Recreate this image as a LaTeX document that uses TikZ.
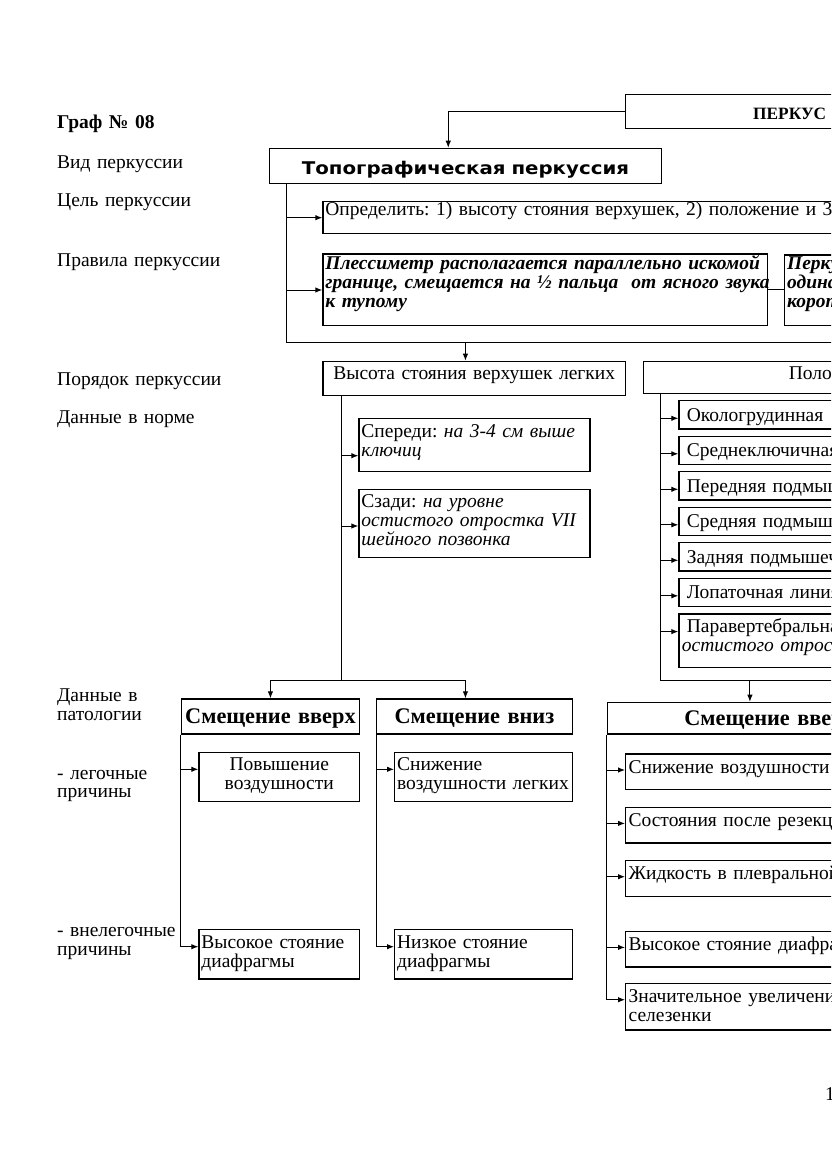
\documentclass[tikz,border=0pt]{standalone}
\usepackage{fontspec}
\setmainfont{Liberation Serif}
\newfontfamily\heavysans[FakeStretch=1.13]{DejaVu Sans Bold}
\usetikzlibrary{arrows.meta}
\newcommand\boxfont{\fontsize{19.5}{18.8}\selectfont}
\newcommand\headfont{\bfseries\fontsize{22.3}{24}\selectfont}
\frenchspacing

\begin{document}
\begin{tikzpicture}[x=1pt, y=-1pt,
    box/.style={draw, line width=1.2pt, anchor=north west, inner xsep=2.5pt, inner ysep=0pt, align=left, font=\boxfont},
    headbox/.style={box, align=center, font=\headfont},
    lbl/.style={anchor=base west, inner sep=0pt, align=left, text width=200pt, font=\boxfont},
    link/.style={line width=1pt},
    arr/.style={link, -{Latex[length=7pt,width=5.5pt]}}]
\useasboundingbox (0,0) rectangle (831,1174);
\clip (0,0) rectangle (831,1174);

% row titles
\node[lbl, font=\boxfont\bfseries] (t0) at (57,128.3) {Граф № 08};
\node[lbl] (t1) at (57,168.3) {Вид перкуссии};
\node[lbl] (t2) at (57,206.7) {Цель перкуссии};
\node[lbl] (t3) at (57,266) {Правила перкуссии};
\node[lbl] (t4) at (57,385) {Порядок перкуссии};
\node[lbl] (t5) at (57,423.3) {Данные в норме};
\node[lbl, text width=120pt] (t6) at (57,701.7) {Данные в\\патологии};
\node[lbl, text width=120pt] (t7) at (57,779) {- легочные\\причины};
\node[lbl, text width=120pt] (t8) at (57,936.7) {- внелегочные\\причины};

% head of the scheme
\node[box, align=center, font=\bfseries\fontsize{17.3}{18}\selectfont,
      text width=323.2pt, text height=24.7pt, text depth=8.7pt] (perk) at (625,94.3) {ПЕРКУС};
\node[box, align=center, font=\heavysans\fontsize{17.5}{18}\selectfont,
      text width=386.7pt, text height=26.6pt, text depth=9pt] (topo) at (269,147.7) {Топографическая перкуссия};
\draw[arr] (perk.west) -| ([xshift=-17.2pt]topo.north);

\node[box, text width=670pt, text height=14.3pt, text depth=18.3pt] (goal) at (322.3,200.7)
  {Определить: 1) высоту стояния верхушек, 2) положение и 3)};
\node[box, font=\boxfont\bfseries\itshape, text width=439.4pt, text height=15.7pt, text depth=56pt] (rule) at (322.3,253.3)
  {\mbox{Плессиметр располагается параллельно искомой}\\
   \mbox{границе, смещается на ½ пальца\ \ от ясного звука}\\
   к тупому};
\node[box, font=\boxfont\bfseries\itshape, text width=300pt, text height=14.7pt, text depth=56pt] (rule2) at (784,254.3)
  {Перку\\одина\\корот};
\draw[link] (rule.east) -- (rule.east -| rule2.west);

\coordinate (tbus) at (286.7,342.7);
\coordinate (tbar) at (900,342.7);
\draw[link] (tbus |- topo.south) -- (tbus) -- (tbar);
\draw[arr] ([yshift=-17pt]goal.north west -| tbus) -- ([yshift=-17pt]goal.north west);
\draw[arr] ([yshift=-36.7pt]rule.north west -| tbus) -- ([yshift=-36.7pt]rule.north west);

% order of percussion
\node[box, align=center, text width=297.7pt, text height=18.6pt, text depth=15.7pt] (vys) at (322.3,360.7)
  {Высота стояния верхушек легких};
\node[box, align=center, text width=329pt, text height=18.6pt, text depth=13.4pt] (polo) at (642.7,360.7) {Поло};
\draw[arr] (topo.south |- tbus) -- (topo.south |- vys.north);

% normal data, apex
\node[box, text width=226pt, text height=19.6pt, text depth=33.7pt] (front) at (358.3,417.7)
  {Спереди: \textit{на 3-4 см выше}\\\textit{ключиц}};
\node[box, text width=226pt, text height=18.3pt, text depth=49.4pt] (back) at (358.3,489)
  {Сзади: \textit{на уровне}\\\textit{остистого отростка VII}\\\textit{шейного позвонка}};
\coordinate (vbus) at (341,680);
\draw[link] (vbus |- vys.south) -- (vbus);
\draw[arr] ([yshift=-38pt]front.north west -| vbus) -- ([yshift=-38pt]front.north west);
\draw[arr] ([yshift=-37pt]back.north west -| vbus) -- ([yshift=-37pt]back.north west);

% normal data, lines
\foreach \nm/\lab [count=\i from 0] in {ok/Окологрудинная, sk/Среднеключичная, pp/Передняя подмыш,
    sr/Средняя подмыше, zp/Задняя подмышеч, lp/Лопаточная линия}
  \node[box, inner xsep=3pt, text width=300pt, text height=20.7pt, text depth=7.6pt] (\nm) at (678.3,400+35.5*\i)
    {\hspace*{5pt}\lab};
\node[box, inner xsep=3pt, text width=300pt, text height=18.4pt, text depth=35pt] (pv) at (678.3,613.3)
  {\hspace*{5pt}Паравертебральна\\\textit{остистого отрост}};
\coordinate (rbus) at (660.7,680);
\coordinate (rbar) at (900,680);
\draw[link] (rbus |- polo.south) -- (rbus) -- (rbar);
\foreach \nm in {ok,sk,pp,sr,zp,lp,pv}
  \draw[arr] ([yshift=-18.3pt]\nm.north west -| rbus) -- ([yshift=-18.3pt]\nm.north west);

% pathology, apex
\node[headbox, text width=173.3pt, text height=24.4pt, text depth=10.6pt] (up) at (180.7,698.3) {Смещение вверх};
\node[headbox, text width=190.7pt, text height=24.4pt, text depth=10.6pt] (dn) at (376,698.3) {Смещение вниз};
\draw[arr] (vbus) -| (up.north);
\draw[arr] (vbus) -| ([xshift=-9pt]dn.north);

\node[box, align=center, text width=155.7pt, text height=18.3pt, text depth=30.7pt] (u1) at (198.3,751.7)
  {Повышение\\воздушности};
\node[box, text width=155.7pt, text height=18.7pt, text depth=30.6pt] (u2) at (198.3,929)
  {Высокое стояние\\диафрагмы};
\node[box, text width=172.7pt, text height=18.3pt, text depth=30.7pt] (d1) at (394,751.7)
  {Снижение\\\mbox{воздушности легких}};
\node[box, text width=172.7pt, text height=18.7pt, text depth=30.6pt] (d2) at (394,929)
  {Низкое стояние\\диафрагмы};
\draw[arr] ([yshift=-17.6pt]u1.north west -| up.south west) -- ([yshift=-17.6pt]u1.north west);
\draw[arr] (up.south west) |- ([yshift=-17.7pt]u2.north west);
\draw[arr] ([yshift=-17.6pt]d1.north west -| dn.south west) -- ([yshift=-17.6pt]d1.north west);
\draw[arr] (dn.south west) |- ([yshift=-17.7pt]d2.north west);

% pathology, lines
\node[headbox, text width=319.6pt, text height=23.3pt, text depth=8.3pt] (rup) at (606.7,701.7) {Смещение вверх};
\draw[arr] ([xshift=-19.7pt]rup.north |- rbus) -- ([xshift=-19.7pt]rup.north);
\foreach \nm/\top/\lab in {r1/753.3/Снижение воздушности, r2/806.7/Состояния после резекци,
    r3/860/Жидкость в плевральной, r4/930.7/Высокое стояние диафраг}
  \node[box, inner xsep=3pt, text width=300pt, text height=19.3pt, text depth=16.4pt] (\nm) at (625,\top) {\lab};
\node[box, inner xsep=3pt, text width=300pt, text height=19.3pt, text depth=27.3pt] (r5) at (625,982.7)
  {Значительное увеличение\\селезенки};
\foreach \nm in {r1,r2,r3,r4}
  \draw[arr] ([yshift=-16.7pt]\nm.north west -| rup.south west) -- ([yshift=-16.7pt]\nm.north west);
\draw[arr] (rup.south west) |- ([yshift=-17pt]r5.north west);

\node[lbl, text width=20pt] (pg) at (825,1100) {1};
\end{tikzpicture}
\end{document}
